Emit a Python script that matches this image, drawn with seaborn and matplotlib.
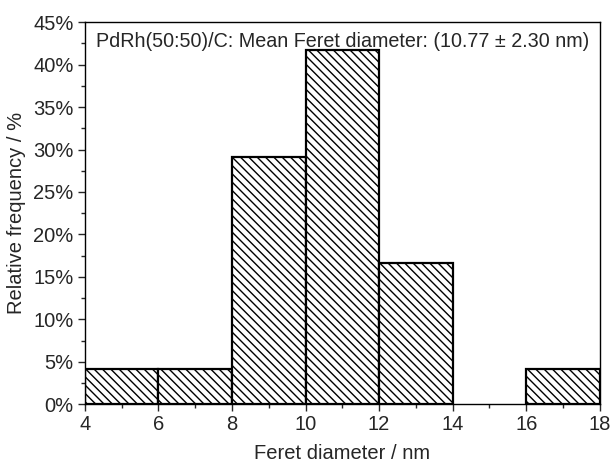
import numpy as np
import pandas as pd
import matplotlib
matplotlib.use("Agg")
import matplotlib.pyplot as plt
import seaborn as sns
from matplotlib.ticker import PercentFormatter, MultipleLocator

bin_edges = [4, 6, 8, 10, 12, 14, 16, 18]
bin_centers = [5, 7, 9, 11, 13, 15, 17]
rel_freq = [4.17, 4.17, 29.17, 41.67, 16.67, 0.0, 4.17]
x_ticks = [4, 6, 8, 10, 12, 14, 16, 18]
y_ticks = [0, 5, 10, 15, 20, 25, 30, 35, 40, 45]
title_text = "PdRh(50:50)/C: Mean Feret diameter: (10.77 ± 2.30 nm)"

sns.set_style("white")
plt.rcParams['font.family'] = ['Liberation Sans', 'DejaVu Sans']
plt.rcParams['hatch.linewidth'] = 1.0
plt.rcParams['hatch.color'] = '#333333'

df = pd.DataFrame({"d": bin_centers, "f": rel_freq})

fig = plt.figure(figsize=(6.14, 4.63), dpi=100)
ax = fig.add_axes([0.138, 0.127, 0.839, 0.825])

sns.histplot(data=df, x="d", weights="f", bins=bin_edges, stat="count",
             color="white", edgecolor="black", linewidth=1.6, alpha=1,
             ax=ax)
for p in ax.patches:
    p.set_hatch("\\\\\\\\")
    p.set_facecolor("white")
    if p.get_height() == 0:
        p.set_linewidth(0)

ax.set_xlim(4, 18)
ax.set_ylim(0, 45)
ax.set_xticks(x_ticks)
ax.set_yticks(y_ticks)
ax.xaxis.set_minor_locator(MultipleLocator(1))
ax.yaxis.set_minor_locator(MultipleLocator(2.5))
ax.yaxis.set_major_formatter(PercentFormatter(decimals=0))
ax.tick_params(axis="both", which="major", direction="out", length=5, width=1,
               labelsize=14.5, bottom=True, left=True, top=False, right=False, pad=3)
ax.tick_params(axis="both", which="minor", direction="out", length=3, width=1,
               bottom=True, left=True, top=False, right=False)
for s in ax.spines.values():
    s.set_linewidth(1.0)
    s.set_color("black")

ax.set_xlabel("Feret diameter / nm", fontsize=14.5, labelpad=7)
ax.set_ylabel("Relative frequency / %", fontsize=14.5, labelpad=5)
ax.text(0.022, 0.975, title_text, transform=ax.transAxes, fontsize=14.2,
        ha="left", va="top")

fig.savefig("out.png", dpi=100)
